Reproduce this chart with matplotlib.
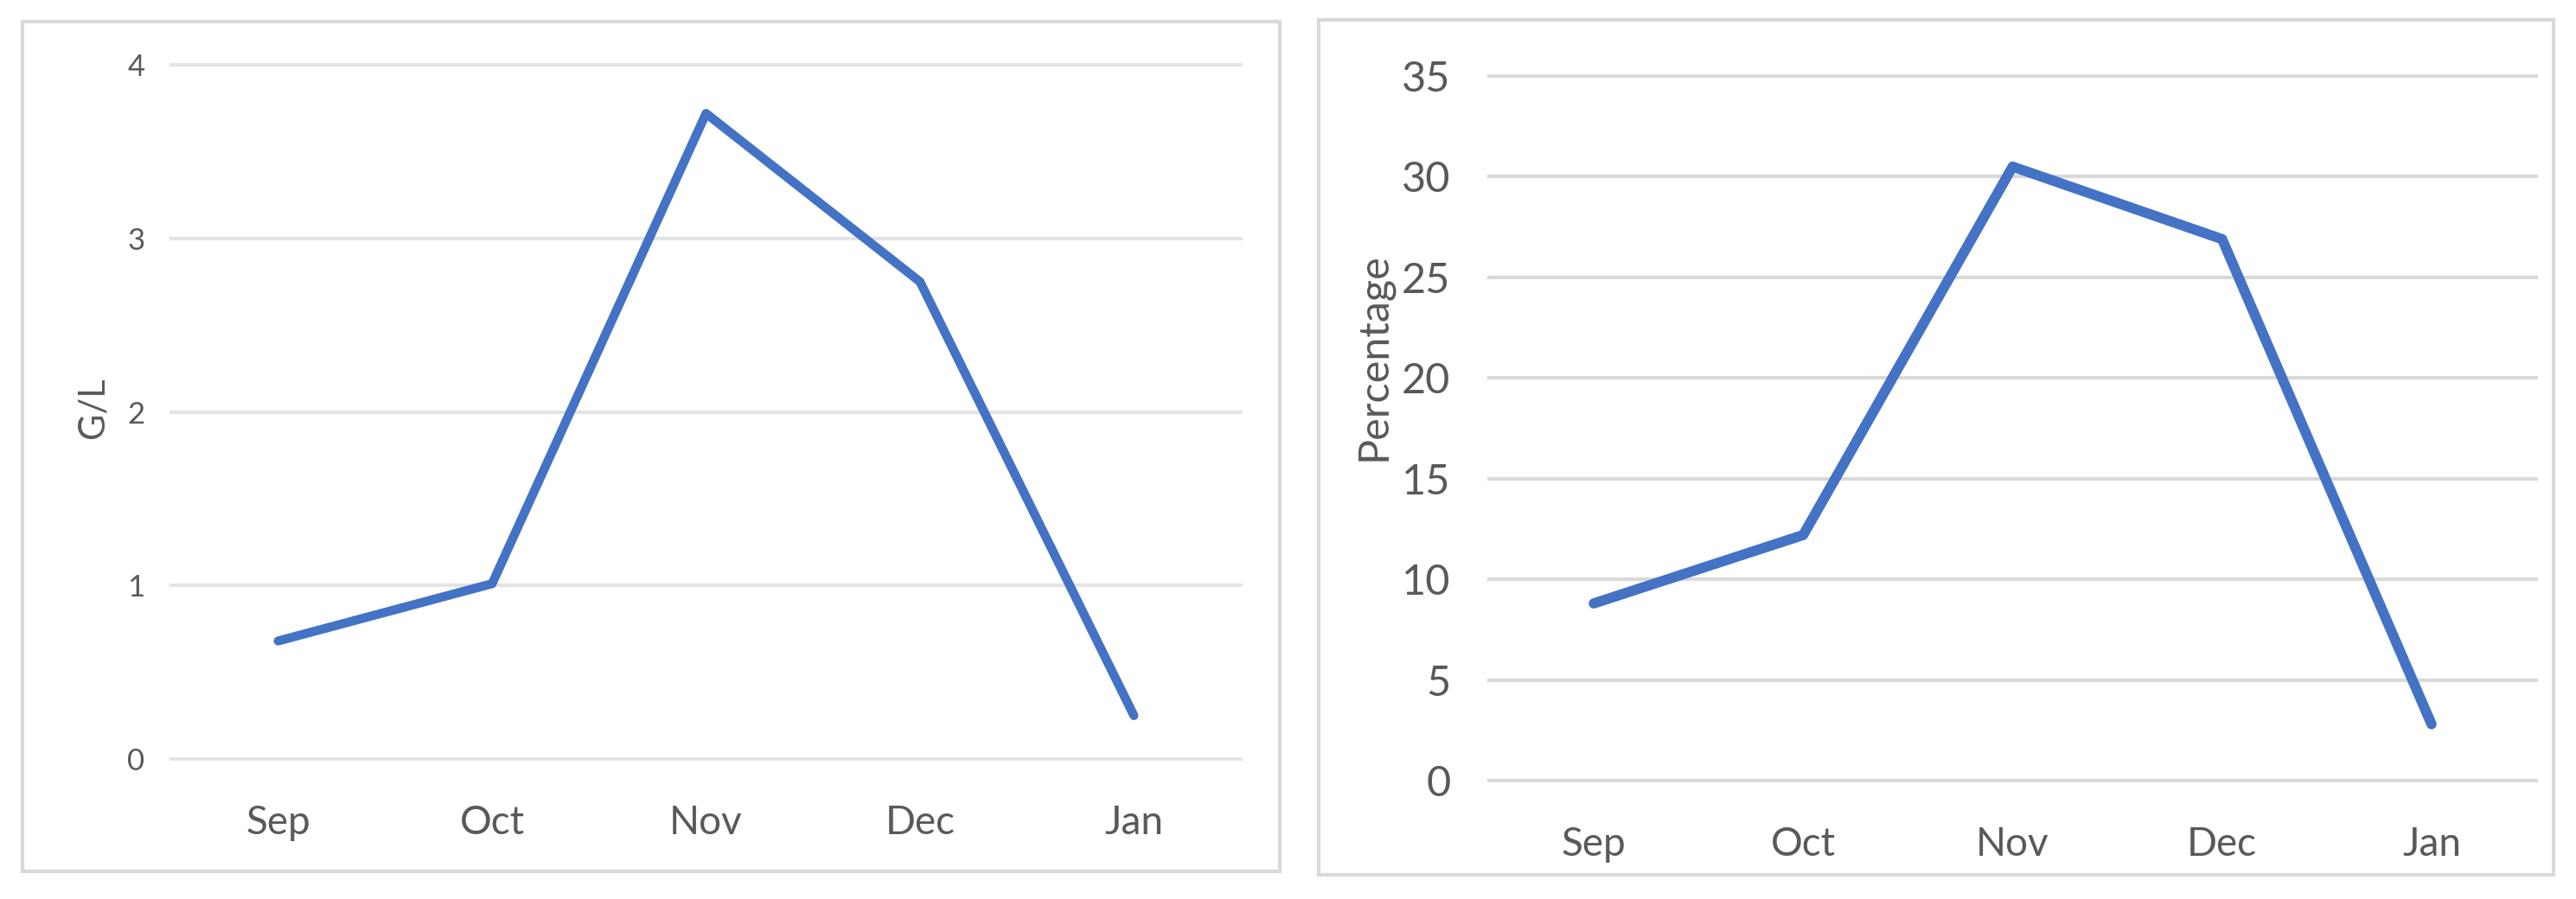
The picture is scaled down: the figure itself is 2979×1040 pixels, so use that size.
import matplotlib
matplotlib.use("Agg")
import matplotlib.pyplot as plt
from matplotlib.patches import Rectangle

# datos
meses = ["Sep", "Oct", "Nov", "Dec", "Jan"]
gl_valores = [0.68, 1.01, 3.72, 2.75, 0.25]
pct_valores = [8.8, 12.2, 30.5, 26.9, 2.8]
gl_ticks = [0, 1, 2, 3, 4]
pct_ticks = [0, 5, 10, 15, 20, 25, 30, 35]

W, H = 2979, 1040
AZUL = "#4472C4"
GRIS_TEXTO = "#595959"

plt.rcParams["font.family"] = ["Lato", "DejaVu Sans"]

fig = plt.figure(figsize=(W / 100, H / 100), dpi=100)


def caja(x0, y0, x1, y1):
    # convierte pixeles (y desde arriba) a coordenadas de figura
    return [x0 / W, 1 - y1 / H, (x1 - x0) / W, (y1 - y0) / H]


# marcos de los dos paneles
for x0, y0, x1, y1 in [(26, 25, 1480, 1008), (1525, 23, 2953, 1012)]:
    fig.patches.append(Rectangle((x0 / W, 1 - y1 / H), (x1 - x0) / W, (y1 - y0) / H,
                                 transform=fig.transFigure, fill=False,
                                 edgecolor="#d9d9d9", linewidth=3))


def panel(pos, valores, ticks, ytick_size, ypad, color_grid, lw):
    ax = fig.add_axes(caja(*pos))
    x = list(range(len(meses)))
    ax.plot(x, valores, color=AZUL, linewidth=lw, solid_capstyle="round")
    ax.set_xlim(-0.5, len(meses) - 0.5)
    ax.set_ylim(ticks[0], ticks[-1])
    ax.set_yticks(ticks)
    ax.set_xticks(x)
    ax.set_xticklabels(meses)
    ax.grid(axis="y", color=color_grid, linewidth=3)
    for linea in ax.get_ygridlines():
        linea.set_clip_on(False)
    ax.set_axisbelow(True)
    for s in ax.spines.values():
        s.set_visible(False)
    ax.tick_params(axis="both", length=0, colors=GRIS_TEXTO)
    ax.tick_params(axis="y", labelsize=ytick_size, pad=ypad)
    ax.tick_params(axis="x", labelsize=33, pad=38)
    return ax


ax1 = panel((198, 75, 1435, 878), gl_valores, gl_ticks, 25, 22, "#e4e4e4", 7.5)
ax2 = panel((1722, 88, 2933, 903), pct_valores, pct_ticks, 35, 32, "#d9d9d9", 8.5)

fig.text(107 / W, 1 - 472 / H, "G/L", rotation=90, ha="center", va="center",
         fontsize=30, color=GRIS_TEXTO)
fig.text(1588 / W, 1 - 413 / H, "Percentage", rotation=90, ha="center", va="center",
         fontsize=35, color=GRIS_TEXTO)

fig.savefig("out.png", dpi=100, facecolor="white")
